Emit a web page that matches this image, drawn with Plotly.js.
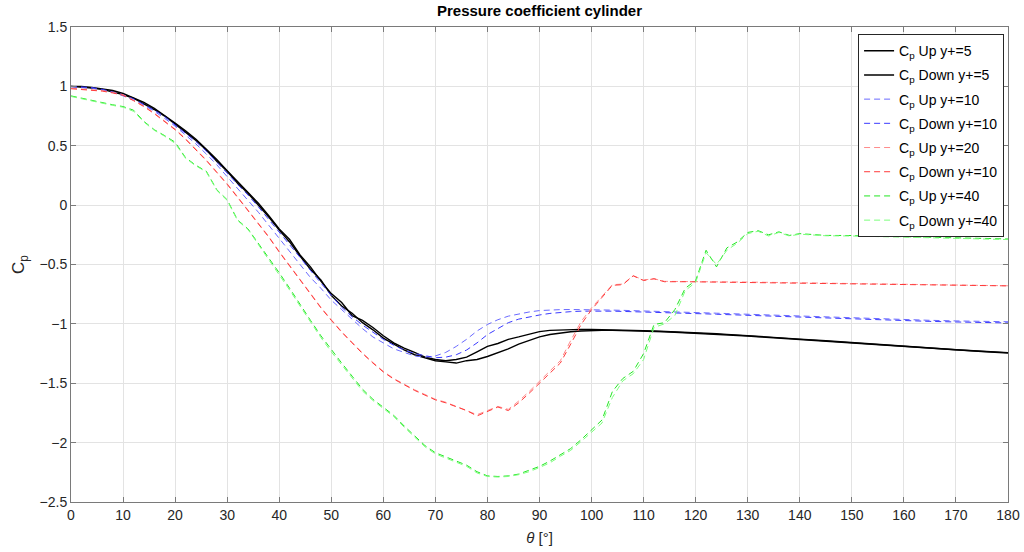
<!DOCTYPE html>
<html>
<head>
<meta charset="utf-8">
<script src="https://cdn.plot.ly/plotly-3.0.1.min.js"></script>
<style>html,body{margin:0;padding:0;background:#fff;}#chart{width:1024px;height:552px;}</style>
</head>
<body>
<div id="chart"></div>
<script>
const theta = [0,2,4,6,8,10,12,14,16,18,20,22,24,26,28,30,32,34,36,38,40,42,44,46,48,50,52,54,56,58,60,62,64,66,68,70,72,74,76,78,80,82,84,86,88,90,92,94,96,98,100,102,104,106,108,110,112,114,116,118,120,122,124,126,128,130,132,134,136,138,140,145,150,155,160,165,170,175,180];

const blackUp = [1.00,1.00,0.99,0.98,0.965,0.94,0.905,0.865,0.815,0.755,0.69,0.625,0.555,0.47,0.385,0.29,0.20,0.11,0.015,-0.09,-0.20,-0.29,-0.42,-0.52,-0.64,-0.745,-0.82,-0.93,-0.97,-1.03,-1.10,-1.16,-1.205,-1.24,-1.28,-1.30,-1.31,-1.30,-1.28,-1.235,-1.19,-1.165,-1.13,-1.11,-1.085,-1.065,-1.055,-1.05,-1.048,-1.046,-1.047,-1.048,-1.05,-1.052,-1.054,-1.057,-1.06,-1.063,-1.067,-1.07,-1.075,-1.079,-1.083,-1.088,-1.093,-1.098,-1.104,-1.11,-1.116,-1.122,-1.128,-1.142,-1.158,-1.172,-1.188,-1.203,-1.218,-1.23,-1.242];

const blackDown = [1.00,0.995,0.985,0.975,0.955,0.93,0.90,0.855,0.805,0.75,0.68,0.615,0.545,0.465,0.37,0.285,0.185,0.10,0.00,-0.10,-0.21,-0.31,-0.43,-0.54,-0.63,-0.76,-0.85,-0.91,-0.99,-1.05,-1.12,-1.17,-1.22,-1.26,-1.285,-1.31,-1.32,-1.33,-1.31,-1.30,-1.275,-1.245,-1.21,-1.17,-1.14,-1.11,-1.09,-1.075,-1.066,-1.06,-1.056,-1.055,-1.055,-1.056,-1.058,-1.06,-1.063,-1.066,-1.07,-1.074,-1.078,-1.082,-1.087,-1.092,-1.097,-1.102,-1.108,-1.114,-1.12,-1.126,-1.132,-1.146,-1.16,-1.176,-1.19,-1.205,-1.22,-1.232,-1.245];

const blueUp = [0.995,0.99,0.985,0.97,0.95,0.92,0.885,0.84,0.79,0.73,0.665,0.59,0.515,0.43,0.34,0.24,0.14,0.045,-0.06,-0.17,-0.28,-0.39,-0.50,-0.61,-0.70,-0.80,-0.88,-0.96,-1.04,-1.11,-1.16,-1.21,-1.24,-1.27,-1.28,-1.27,-1.24,-1.19,-1.13,-1.06,-1.005,-0.965,-0.935,-0.915,-0.90,-0.888,-0.882,-0.88,-0.879,-0.879,-0.88,-0.882,-0.884,-0.886,-0.888,-0.89,-0.892,-0.895,-0.898,-0.901,-0.904,-0.907,-0.91,-0.913,-0.916,-0.919,-0.922,-0.926,-0.93,-0.934,-0.938,-0.946,-0.953,-0.959,-0.965,-0.97,-0.975,-0.978,-0.982];

const blueDown = [1.00,0.995,0.99,0.975,0.955,0.93,0.895,0.85,0.80,0.745,0.675,0.605,0.535,0.455,0.365,0.27,0.175,0.085,-0.015,-0.12,-0.225,-0.33,-0.44,-0.55,-0.66,-0.76,-0.86,-0.94,-1.01,-1.07,-1.13,-1.18,-1.22,-1.25,-1.27,-1.285,-1.28,-1.26,-1.22,-1.16,-1.09,-1.04,-0.99,-0.96,-0.94,-0.925,-0.912,-0.903,-0.897,-0.893,-0.891,-0.892,-0.893,-0.895,-0.897,-0.899,-0.901,-0.904,-0.907,-0.91,-0.913,-0.916,-0.919,-0.922,-0.925,-0.928,-0.931,-0.935,-0.939,-0.943,-0.947,-0.955,-0.962,-0.968,-0.974,-0.979,-0.984,-0.988,-0.992];

const redUp = [0.985,0.98,0.975,0.965,0.95,0.93,0.885,0.835,0.775,0.71,0.64,0.56,0.47,0.38,0.28,0.18,0.07,-0.04,-0.155,-0.265,-0.39,-0.51,-0.63,-0.75,-0.86,-0.965,-1.065,-1.155,-1.245,-1.325,-1.40,-1.46,-1.51,-1.555,-1.595,-1.635,-1.66,-1.695,-1.725,-1.765,-1.73,-1.695,-1.72,-1.65,-1.57,-1.485,-1.40,-1.31,-1.14,-0.98,-0.865,-0.77,-0.67,-0.665,-0.595,-0.63,-0.62,-0.642,-0.642,-0.644,-0.645,-0.646,-0.646,-0.647,-0.647,-0.648,-0.649,-0.65,-0.651,-0.652,-0.653,-0.656,-0.659,-0.662,-0.665,-0.669,-0.672,-0.675,-0.679];

const redDown = [0.98,0.975,0.97,0.96,0.945,0.925,0.88,0.83,0.77,0.70,0.635,0.555,0.465,0.375,0.275,0.175,0.065,-0.045,-0.16,-0.27,-0.395,-0.515,-0.635,-0.755,-0.865,-0.97,-1.07,-1.16,-1.25,-1.33,-1.405,-1.465,-1.515,-1.56,-1.60,-1.64,-1.665,-1.70,-1.73,-1.775,-1.735,-1.70,-1.73,-1.665,-1.585,-1.50,-1.42,-1.33,-1.17,-1.005,-0.88,-0.78,-0.675,-0.67,-0.595,-0.635,-0.62,-0.645,-0.643,-0.645,-0.646,-0.647,-0.647,-0.648,-0.648,-0.649,-0.65,-0.651,-0.652,-0.653,-0.654,-0.657,-0.66,-0.663,-0.666,-0.67,-0.673,-0.676,-0.68];

const greenUp = [0.92,0.90,0.88,0.86,0.845,0.83,0.80,0.705,0.635,0.585,0.53,0.40,0.335,0.285,0.13,0.045,-0.125,-0.20,-0.32,-0.45,-0.57,-0.70,-0.84,-0.97,-1.10,-1.22,-1.33,-1.44,-1.55,-1.635,-1.70,-1.77,-1.86,-1.945,-2.025,-2.085,-2.12,-2.16,-2.19,-2.245,-2.28,-2.285,-2.28,-2.265,-2.235,-2.20,-2.155,-2.10,-2.05,-1.975,-1.895,-1.81,-1.57,-1.46,-1.40,-1.25,-1.005,-0.99,-0.88,-0.70,-0.635,-0.38,-0.52,-0.36,-0.31,-0.23,-0.215,-0.25,-0.225,-0.255,-0.24,-0.255,-0.256,-0.262,-0.266,-0.27,-0.275,-0.28,-0.285];

const greenDown = [0.915,0.895,0.875,0.855,0.84,0.825,0.79,0.70,0.63,0.58,0.52,0.395,0.33,0.28,0.125,0.04,-0.13,-0.205,-0.33,-0.46,-0.58,-0.715,-0.85,-0.985,-1.115,-1.235,-1.345,-1.455,-1.565,-1.645,-1.71,-1.78,-1.87,-1.955,-2.035,-2.095,-2.13,-2.17,-2.20,-2.255,-2.285,-2.29,-2.285,-2.27,-2.245,-2.21,-2.17,-2.115,-2.065,-1.99,-1.91,-1.835,-1.62,-1.48,-1.42,-1.30,-1.03,-1.00,-0.93,-0.72,-0.65,-0.40,-0.50,-0.38,-0.32,-0.24,-0.22,-0.26,-0.23,-0.26,-0.245,-0.258,-0.26,-0.265,-0.27,-0.273,-0.278,-0.283,-0.29];

const seriesNames = ['C<sub>p</sub> Up y+=5','C<sub>p</sub> Down y+=5','C<sub>p</sub> Up y+=10','C<sub>p</sub> Down y+=10','C<sub>p</sub> Up y+=20','C<sub>p</sub> Down y+=10','C<sub>p</sub> Up y+=40','C<sub>p</sub> Down y+=40'];
const seriesData = [blackUp, blackDown, blueUp, blueDown, redUp, redDown, greenUp, greenDown];
const seriesColors = ['#000000','#000000','#6a6aff','#3a3aff','#ff8c8c','#ff3a3a','#22e622','#7cff7c'];
const seriesDash = ['solid','solid','6px,4px','6px,4px','6px,4px','6px,4px','6px,4px','6px,4px'];
const seriesWidth = [1.4,1.4,1,1,1,1,1,1];

const FONT = 'Liberation Sans, Arial, Helvetica, sans-serif';

const traces = seriesData.map((ys, i) => ({
  x: theta, y: ys, type: 'scatter', mode: 'lines', name: seriesNames[i],
  legendgroup: 'g' + i,
  line: {color: seriesColors[i], width: seriesWidth[i], dash: seriesDash[i]}
}));

const layout = {
  width: 1024, height: 552,
  margin: {l: 71, r: 16, t: 27, b: 50, pad: 0},
  paper_bgcolor: '#ffffff', plot_bgcolor: '#ffffff',
  font: {family: FONT, color: '#262626', size: 14},
  title: {text: '<b>Pressure coefficient cylinder</b>', font: {family: FONT, size: 15, color: '#000'},
          x: 0.5, xref: 'paper', y: 0.98, yref: 'container', yanchor: 'middle'},
  xaxis: {range: [0, 180], dtick: 10, tick0: 0, ticks: 'inside', ticklen: 5, tickcolor: '#7a7a7a',
          showline: true, linecolor: '#7a7a7a', linewidth: 1, mirror: 'ticks',
          showgrid: true, gridcolor: '#e3e3e3', gridwidth: 1, zeroline: false,
          tickfont: {family: FONT, size: 14, color: '#262626'},
          title: {text: '<i>θ</i> [°]', font: {family: FONT, size: 15, color: '#262626'}, standoff: 10}},
  yaxis: {range: [-2.5, 1.5], dtick: 0.5, ticks: 'inside', ticklen: 5, tickcolor: '#7a7a7a',
          showline: true, linecolor: '#7a7a7a', linewidth: 1, mirror: 'ticks',
          showgrid: true, gridcolor: '#e3e3e3', gridwidth: 1, zeroline: false,
          tickfont: {family: FONT, size: 14, color: '#262626'},
          title: {text: 'C<sub>p</sub>', font: {family: FONT, size: 17, color: '#262626'}, standoff: 10}},
  legend: {x: 0.840, y: 0.985, xanchor: 'left', yanchor: 'top', bgcolor: '#ffffff',
           bordercolor: '#262626', borderwidth: 1, font: {family: FONT, size: 14, color: '#000'},
           tracegroupgap: 3, itemwidth: 30},
  showlegend: true
};

Plotly.newPlot('chart', traces, layout, {displayModeBar: false, staticPlot: true});
</script>
</body>
</html>
